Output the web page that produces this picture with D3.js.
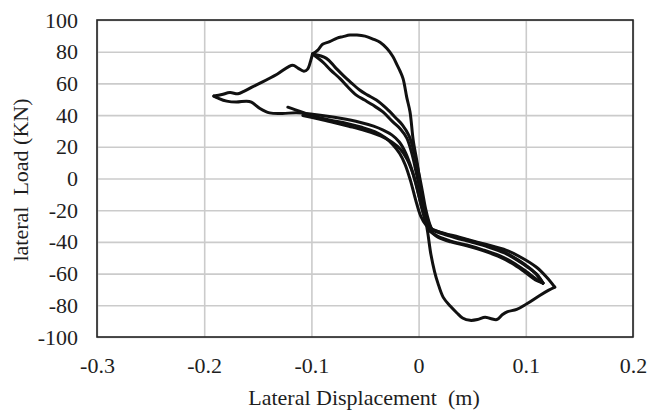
<!DOCTYPE html>
<html><head><meta charset="utf-8">
<script src="https://cdn.jsdelivr.net/npm/d3@7"></script>
<style>body{margin:0;background:#fff}</style>
</head><body>
<svg id="c" width="649" height="415"></svg>
<script>
// ---- tick values / labels ----
const xTicks = [-0.3, -0.2, -0.1, 0, 0.1, 0.2];
const xTickLabels = ["-0.3", "-0.2", "-0.1", "0", "0.1", "0.2"];
const yTicks = [-100, -80, -60, -40, -20, 0, 20, 40, 60, 80, 100];
const yTickLabels = ["-100", "-80", "-60", "-40", "-20", "0", "20", "40", "60", "80", "100"];
const xTitle = "Lateral Displacement  (m)";
const yTitle = "lateral  Load (KN)";

// ---- hysteresis branches: [displacement (m), load (KN)] ----
const bandLeftA = [[-0.122,45],[-0.1155,43.5],[-0.106,41.2],[-0.099,39.5],[-0.083,37],[-0.067,34.8],[-0.053,32.3],[-0.041,29.5],[-0.031,25.7],[-0.024,21.3],[-0.0175,15.6],[-0.0125,8.7],[-0.0075,-1.5],[-0.0027,-13.6],[0.002,-23.7],[0.0069,-29.4],[0.0125,-32.6]];
const rightOutA = [[0.0125,-32.6],[0.02,-34.5],[0.035,-37.5],[0.05,-40.2],[0.065,-43.2],[0.08,-47],[0.092,-51.5],[0.102,-56],[0.11,-60.5],[0.116,-66]];
const rightBackA = [[0.116,-66],[0.11,-63.5],[0.1,-58.5],[0.088,-53],[0.075,-48.5],[0.06,-45],[0.045,-42],[0.03,-39.5],[0.018,-36.5],[0.0105,-33]];
const lineBUp = [[0.012,-32],[0.0095,-27],[0.0065,-19],[0.0035,-8],[0,4],[-0.004,16],[-0.009,27],[-0.015,33.7],[-0.0208,37.9],[-0.03,44.2],[-0.0394,49.5],[-0.0475,52.6],[-0.055,55.8],[-0.0625,60.2],[-0.0706,65.2],[-0.078,70.3],[-0.086,75.8],[-0.099,78.5]];
const lineADown = [[-0.099,78.5],[-0.0893,73.4],[-0.082,68.4],[-0.0733,63],[-0.066,57.7],[-0.0581,52.6],[-0.0504,49.5],[-0.0426,46.3],[-0.0333,42],[-0.024,35.7],[-0.0168,31.1],[-0.011,25.5],[-0.006,15],[-0.002,3],[0.002,-9],[0.0055,-20],[0.009,-27.5],[0.0125,-32]];
const rightOutB = [[0.0125,-32],[0.02,-34],[0.035,-37],[0.05,-39.7],[0.065,-42.7],[0.08,-46.5],[0.093,-51.5],[0.103,-56.3],[0.111,-61],[0.116,-66]];
const rightBackB = [[0.116,-66],[0.109,-64],[0.099,-59],[0.087,-53.5],[0.074,-49],[0.06,-45.5],[0.045,-42.5],[0.03,-40],[0.018,-37],[0.0105,-33]];
const bandLeftB = [[0.0105,-33],[0.006,-26],[0.0015,-14],[-0.0025,-3],[-0.0065,5.5],[-0.011,12.5],[-0.017,18.5],[-0.025,23],[-0.035,26.8],[-0.05,30.3],[-0.065,33],[-0.08,35.5],[-0.095,37.8],[-0.108,39.8]];
const outerTop = [[-0.099,78.5],[-0.094,81],[-0.0896,84.7],[-0.083,86.3],[-0.076,88.6],[-0.0705,89.5],[-0.064,90.5],[-0.0575,90.5],[-0.05,89.8],[-0.0425,88],[-0.036,86],[-0.0295,82],[-0.024,77],[-0.02,71.5],[-0.0175,68],[-0.0145,63],[-0.011,51],[-0.008,42],[-0.005,24],[-0.001,8.5],[0.002,-7.3],[0.005,-20],[0.0085,-34],[0.0115,-48],[0.015,-59],[0.018,-66],[0.023,-75],[0.0295,-80.5],[0.036,-85],[0.041,-88],[0.048,-89.5],[0.055,-89],[0.062,-87.5],[0.067,-88.3],[0.073,-89],[0.078,-86],[0.083,-84],[0.0915,-82.6],[0.101,-79],[0.113,-73.8],[0.121,-70.6],[0.127,-68.5]];
const outerReturn = [[0.127,-68.5],[0.1195,-62.3],[0.11,-56],[0.097,-50.3],[0.082,-45.3],[0.0595,-41],[0.038,-37],[0.02,-33.8],[0.0105,-31.3],[0.005,-23],[0,-10.4],[-0.0035,-1],[-0.0075,8],[-0.012,16],[-0.018,23],[-0.025,27.5],[-0.033,30.5],[-0.042,33],[-0.055,35.5],[-0.073,38],[-0.085,39.3],[-0.099,40.5],[-0.114,41.5],[-0.127,41],[-0.139,41.4],[-0.148,44.2],[-0.156,48.2],[-0.1605,48.8],[-0.17,48.2],[-0.179,48.8],[-0.187,50.7],[-0.191,52]];
const outerUpLeft = [[-0.191,52],[-0.1835,53],[-0.176,54.2],[-0.1685,53.5],[-0.163,55],[-0.1555,57.6],[-0.146,60.8],[-0.132,65.8],[-0.1175,71.5],[-0.1125,69.6],[-0.107,67.7],[-0.1035,69],[-0.1005,74.7],[-0.099,78.5]];

const branches = [bandLeftA, rightOutA, rightBackA, lineBUp, lineADown, rightOutB, rightBackB, bandLeftB, outerTop, outerReturn, outerUpLeft];

// ---- layout ----
const svg = d3.select("#c");
const L = 97, R = 633, T = 20, B = 337;
const x = d3.scaleLinear().domain([-0.3, 0.2]).range([L, R]);
const y = d3.scaleLinear().domain([-100, 100]).range([B, T]);
const font = "'Liberation Serif','Times New Roman',serif";

// grid
svg.append("g").attr("transform", `translate(0,${B})`)
  .call(d3.axisBottom(x).tickValues(xTicks).tickSize(-(B - T)).tickFormat(""))
  .call(g => g.select(".domain").remove())
  .call(g => g.selectAll("line").attr("stroke", "#cbcbcb").attr("stroke-width", 1.6));
svg.append("g").attr("transform", `translate(${L},0)`)
  .call(d3.axisLeft(y).tickValues(yTicks).tickSize(-(R - L)).tickFormat(""))
  .call(g => g.select(".domain").remove())
  .call(g => g.selectAll("line").attr("stroke", "#cbcbcb").attr("stroke-width", 1.6));

// tick labels
svg.append("g").attr("transform", `translate(0,${B})`)
  .call(d3.axisBottom(x).tickValues(xTicks).tickSize(0).tickPadding(20)
    .tickFormat((d, i) => xTickLabels[i]))
  .call(g => g.select(".domain").remove())
  .call(g => g.selectAll("text").attr("font-family", font).attr("font-size", 22).attr("fill", "#1e1e1e"));
svg.append("g").attr("transform", `translate(${L},0)`)
  .call(d3.axisLeft(y).tickValues(yTicks).tickSize(0).tickPadding(19)
    .tickFormat((d, i) => yTickLabels[i]))
  .call(g => g.select(".domain").remove())
  .call(g => g.selectAll("text").attr("font-family", font).attr("font-size", 22).attr("fill", "#1e1e1e"));

// frame
svg.append("rect").attr("x", L).attr("y", T).attr("width", R - L).attr("height", B - T)
  .attr("fill", "none").attr("stroke", "#222").attr("stroke-width", 1.6);

// curves
const line = d3.line().x(d => x(d[0])).y(d => y(d[1])).curve(d3.curveCatmullRom.alpha(0.5));
svg.append("g").selectAll("path").data(branches).join("path")
  .attr("d", line).attr("fill", "none").attr("stroke", "#111")
  .attr("stroke-width", 3).attr("stroke-linejoin", "round").attr("stroke-linecap", "round");

// titles
svg.append("text").attr("x", 364).attr("y", 405).attr("text-anchor", "middle")
  .attr("font-family", font).attr("font-size", 22).attr("fill", "#1e1e1e")
  .style("white-space", "pre").text(xTitle);
svg.append("text").attr("transform", "translate(28,180) rotate(-90)").attr("text-anchor", "middle")
  .attr("font-family", font).attr("font-size", 22).attr("fill", "#1e1e1e")
  .style("white-space", "pre").text(yTitle);
</script>
</body></html>
